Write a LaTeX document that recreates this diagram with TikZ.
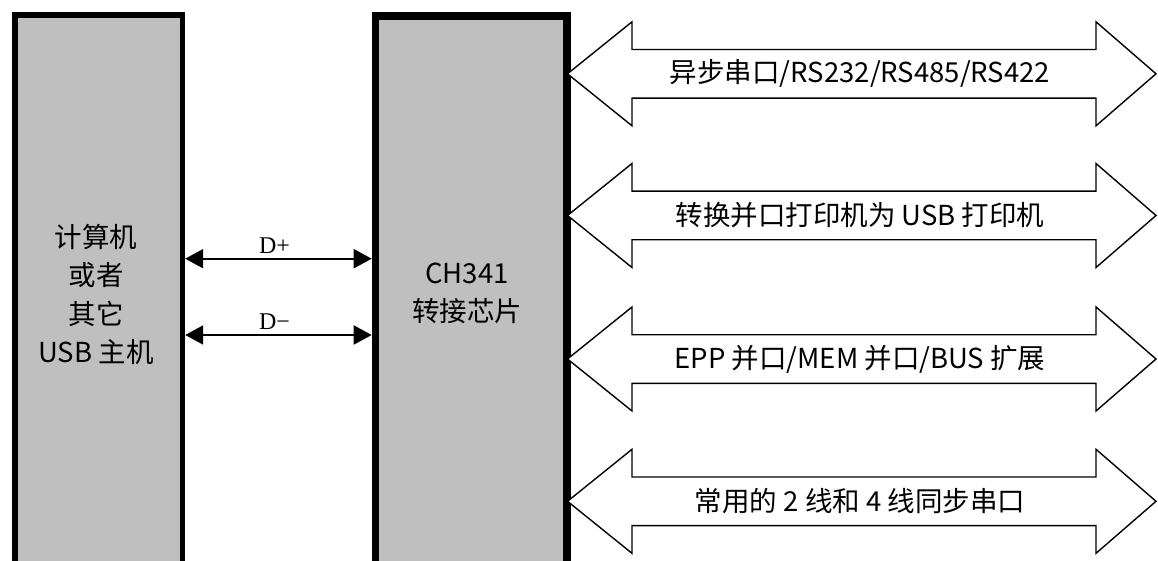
\documentclass[tikz,border=0pt]{standalone}
\usepackage{fontspec}
\usetikzlibrary{arrows.meta}
\setmainfont{Noto Sans CJK SC}
\newfontfamily\dfont{Liberation Serif}
\definecolor{boxgray}{RGB}{191,191,191}
\begin{document}
\begin{tikzpicture}[x=1pt,y=-1pt,
  boxstyle/.style={draw=black,fill=boxgray,rectangle,anchor=north west,inner sep=0pt},
  cjk/.style={font=\fontsize{27.5}{38.3}\selectfont,inner sep=0pt},
  dlabel/.style={font=\dfont\fontsize{24}{24}\selectfont,inner sep=0pt,xshift=-4pt},
  bus/.style={draw=black,line width=1.4pt,fill=white,line join=miter},
  sig/.style={line width=2pt,{Triangle[length=18pt,width=19pt]}-{Triangle[length=18pt,width=19pt]}}
]
\useasboundingbox (0,0) rectangle (1158,561);
\begin{scope}
\clip (0,0) rectangle (1158,561);
\node[boxstyle,line width=5.5pt,minimum width=167.7pt,minimum height=620pt] (host) at (12,12.5) {};
\node[boxstyle,line width=7.5pt,minimum width=191.3pt,minimum height=620pt] (chip) at (371.7,12.2) {};
\end{scope}
% texts in boxes
\node[cjk,align=center] (hosttxt) at (96,294.5) {计算机\\或者\\其它\\USB 主机};
\node[cjk,align=center] (chiptxt) at (467,293.5) {CH341\\转接芯片};
% D+ / D- signals
\coordinate (dp) at (0,258.7);
\coordinate (dm) at (0,335);
\draw[sig] (host.east |- dp) -- (chip.west |- dp) node[midway,above=4pt,dlabel] (dplbl) {D+};
\draw[sig] (host.east |- dm) -- (chip.west |- dm) node[midway,above=4pt,dlabel] (dmlbl) {D−};
% bus arrows
\foreach \yc/\txt/\nm in {73.8/{异步串口/RS232/RS485/RS422}/b1,
                          215.5/{转换并口打印机为 USB 打印机}/b2,
                          359/{EPP 并口/MEM 并口/BUS 扩展}/b3,
                          501.3/{常用的 2 线和 4 线同步串口}/b4}{
  \coordinate (\nm l) at (567.5,\yc);
  \coordinate (\nm r) at (1156,\yc);
  \draw[bus] (\nm l) -- ++(64.5,-52) -- ++(0,27.7) -- (1096,\yc-24.3) -- ++(0,-27.7) -- (\nm r)
     -- (1096,\yc+52) -- ++(0,-27.7) -- (632,\yc+24.3) -- ++(0,27.7) -- cycle;
  \node[cjk] (\nm t) at (860,\yc) {\txt};
}
\end{tikzpicture}
\end{document}
